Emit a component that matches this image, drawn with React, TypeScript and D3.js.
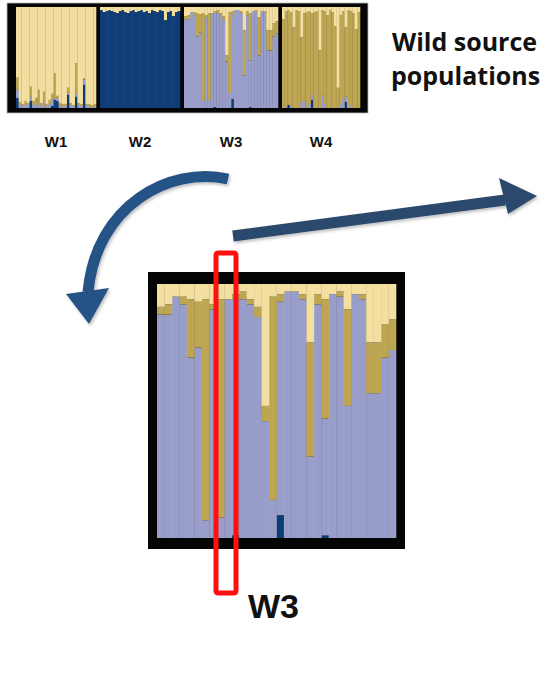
import React from "react";
import * as d3 from "d3";

// admixture proportions per individual; the dominant cluster of each population
// takes the remaining share so every bar sums to 1
const CLUSTERS = ["blue", "lav", "gold", "yellow"]; // stacking order, bottom to top
const COLORS: Record<string, string> = {
  blue: "#103c77",
  lav: "#989ec9",
  gold: "#bda551",
  yellow: "#f3df9f",
};

const POP_NAMES = ["W1", "W2", "W3", "W4"];

const W1_BLUE = [.10, 0, 0, 0, 0, .07, 0, 0, 0, 0, 0, 0, 0, .02, .08, .07, 0, 0, 0, .13, 0, 0, .11, 0, 0, .23, 0, 0, 0, 0];
const W1_LAV = [.08, .03, .02, .04, .03, .04, .03, .05, .03, .02, .06, .01, .04, .06, .02, .03, .03, .01, .02, .02, .03, .02, .03, .03, .02, .05, .03, .01, .01, .01];
const W1_GOLD = [.12, .03, .02, .03, .02, .10, .04, .05, .15, .03, .10, .03, .04, .06, .24, .02, .02, .03, .02, .05, .02, .01, .30, .02, .02, .01, .01, .03, .02, .03];

const W2_YELLOW = [.03, .05, .04, .03, .04, .05, .06, .04, .03, .05, .06, .04, .03, .05, .04, .03, .05, .04, .06, .03, .04, .05, .03, .04, .13, .05, .04, .09, .05, .04];

const W3_YELLOW = [.09, .08, .05, .05, .06, .07, .06, .08, .06, .06, .04, .03, .06, .09, .48, .05, .04, .03, .03, .04, .23, .04, .06, .04, .03, .10, .04, .04, .23, .23, .16, .14];
const W3_GOLD = [.03, .04, 0, .03, .23, .18, .87, .02, .86, 0, .02, .03, .02, .04, .06, .80, .03, 0, 0, .02, .45, .04, .47, 0, .02, .38, 0, .02, .20, .20, .13, .12];
const W3_BLUE = [0, 0, 0, 0, 0, 0, 0, 0, 0, 0, .01, 0, 0, 0, 0, 0, .09, 0, 0, 0, 0, 0, .01, 0, 0, 0, 0, 0, 0, 0, 0, 0];

const W4_YELLOW = [.12, .04, .03, .05, .20, .03, .04, .30, .06, .05, .04, .06, .05, .04, .43, .03, .04, .08, .03, .05, .19, .80, .08, .04, .20, .03, .04, .06, .22, .05];
const W4_BLUE = [0, 0, .03, 0, 0, 0, 0, 0, 0, 0, 0, .08, 0, 0, 0, 0, 0, 0, 0, 0, 0, 0, 0, 0, .06, 0, 0, 0, 0, 0];
const W4_LAV = [0, .02, 0, .02, 0, 0, 0, .06, .07, 0, .04, .05, 0, 0, 0, .12, .04, 0, 0, 0, 0, 0, .03, .09, .05, 0, .03, 0, 0, 0];

type Row = Record<string, number>;

function buildRows(parts: Record<string, number[]>, main: string): Row[] {
  const n = Object.values(parts)[0].length;
  return d3.range(n).map(i => {
    const row: Row = {blue: 0, lav: 0, gold: 0, yellow: 0};
    Object.entries(parts).forEach(([k, arr]) => { row[k] = arr[i]; });
    row[main] = 1 - d3.sum(CLUSTERS.filter(k => k !== main), k => row[k]);
    return row;
  });
}

const popRows: Record<string, Row[]> = {
  W1: buildRows({blue: W1_BLUE, lav: W1_LAV, gold: W1_GOLD}, "yellow"),
  W2: buildRows({yellow: W2_YELLOW}, "blue"),
  W3: buildRows({yellow: W3_YELLOW, gold: W3_GOLD, blue: W3_BLUE}, "lav"),
  W4: buildRows({yellow: W4_YELLOW, blue: W4_BLUE, lav: W4_LAV}, "gold"),
};

const stacker = d3.stack<Row>().keys(CLUSTERS);

function Structure({rows, x0, x1, y0, y1, sep}) {
  const x = d3.scaleBand<number>().domain(d3.range(rows.length)).range([x0, x1]).padding(0);
  const y = d3.scaleLinear().domain([0, 1]).range([y1, y0]);
  const series = stacker(rows);
  return (
    <g>
      {series.map(s => (
        <g key={s.key} fill={COLORS[s.key]}>
          {s.map((d, i) => d[1] - d[0] > 0 ? (
            <rect key={i}
                  x={x(i)}
                  y={y(d[1])}
                  width={x.bandwidth() + 0.3}
                  height={y(d[0]) - y(d[1])} />
          ) : null)}
        </g>
      ))}
      {d3.range(1, rows.length).map(i => (
        <line key={i}
              x1={x(i)} x2={x(i)} y1={y0} y2={y1}
              stroke="#ffffff" strokeOpacity={sep} strokeWidth={0.6} />
      ))}
    </g>
  );
}

export default function App() {
  // top panel: population extents inside the black frame
  const topX = d3.scaleOrdinal<string, [number, number]>()
    .domain(POP_NAMES)
    .range([[16, 96], [100, 180], [184, 278], [282, 360]]);
  const top = {y0: 7, y1: 108};
  const zoom = {x0: 157, x1: 396, y0: 284, y1: 538};

  return (
    <svg width={550} height={677} viewBox="0 0 550 677"
         style={{position: "absolute", left: 0, top: 0, display: "block", background: "#fff"}}>
      <defs>
        <filter id="soft" x="-5%" y="-5%" width="110%" height="110%">
          <feGaussianBlur stdDeviation="0.45" />
        </filter>
        <filter id="shadow" x="-10%" y="-10%" width="130%" height="130%">
          <feDropShadow dx="1.5" dy="2" stdDeviation="1.5" floodColor="#000" floodOpacity="0.25" />
        </filter>
      </defs>

      {/* top panel */}
      <rect x={7} y={3} width={361} height={110} fill="#050505" stroke="#bbb" strokeWidth={0.8} />
      <g filter="url(#soft)">
        {POP_NAMES.map(p => (
          <Structure key={p} rows={popRows[p]}
                     x0={topX(p)[0]} x1={topX(p)[1]} y0={top.y0} y1={top.y1} sep={0.08} />
        ))}
      </g>
      {POP_NAMES.map(p => (
        <text key={p} x={(topX(p)[0] + topX(p)[1]) / 2} y={147}
              textAnchor="middle" fontFamily="Liberation Sans, Arial, sans-serif"
              fontWeight="bold" fontSize={15} fill="#111">{p}</text>
      ))}

      <text x={392} y={51} fontFamily="Open Sans, sans-serif" fontWeight="bold"
            fontSize={25} fill="#111">Wild source</text>
      <text x={391} y={85} fontFamily="Open Sans, sans-serif" fontWeight="bold"
            fontSize={25} fill="#111">populations</text>

      {/* arrows */}
      <g filter="url(#shadow)">
        <path d="M228,179 C170,166 96,205 88,292" fill="none" stroke="#285386" strokeWidth={11} />
        <path d="M66,294 L109,288 L89,324 Z" fill="#285386" />
        <path d="M233,236 L505,200" fill="none" stroke="#2c486c" strokeWidth={11} />
        <path d="M499,178 L537,196 L508,214 Z" fill="#2c486c" />
      </g>

      {/* zoomed W3 panel */}
      <rect x={148} y={272} width={257} height={277} fill="#050505" />
      <g filter="url(#soft)">
        <Structure rows={popRows.W3} x0={zoom.x0} x1={zoom.x1} y0={zoom.y0} y1={zoom.y1} sep={0.12} />
      </g>

      <rect x={216} y={253} width={20} height={340} rx={2} fill="none" stroke="#ff1010" strokeWidth={5} />
      <text x={248} y={618} fontFamily="Liberation Sans, Arial, sans-serif" fontWeight="bold"
            fontSize={34} fill="#111">W3</text>
    </svg>
  );
}
